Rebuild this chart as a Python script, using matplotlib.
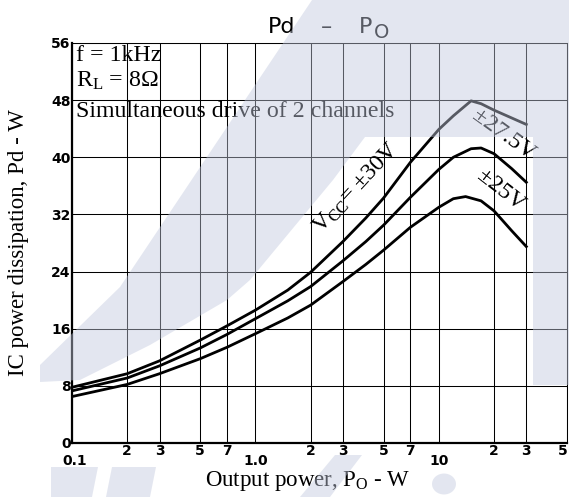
import matplotlib
matplotlib.use("Agg")
import matplotlib.pyplot as plt
from matplotlib.patches import Polygon, Circle
import matplotlib.transforms as mtransforms

plt.rcParams['mathtext.fontset'] = 'custom'
plt.rcParams['mathtext.rm'] = 'Liberation Serif'
plt.rcParams['mathtext.it'] = 'Liberation Serif:italic'

# ---- data ----
p_30 = [0.1, 0.2, 0.3, 0.5, 0.7, 1.0, 1.5, 2, 3, 4, 5, 7, 10, 12, 15, 17, 20, 25, 30]
pd_30 = [7.8, 9.7, 11.5, 14.4, 16.4, 18.6, 21.4, 23.9, 28.2, 31.5, 34.3, 39.3, 43.9, 45.8, 47.9, 47.5, 46.6, 45.5, 44.6]

p_275 = [0.1, 0.2, 0.3, 0.5, 0.7, 1.0, 1.5, 2, 3, 4, 5, 7, 10, 12, 15, 17, 20, 25, 30]
pd_275 = [7.3, 9.1, 10.8, 13.3, 15.2, 17.4, 19.9, 21.9, 25.5, 28.2, 30.5, 34.4, 38.3, 40.0, 41.2, 41.3, 40.5, 38.4, 36.5]

p_25 = [0.1, 0.2, 0.3, 0.5, 0.7, 1.0, 1.5, 2, 3, 4, 5, 7, 10, 12, 14, 17, 20, 25, 30]
pd_25 = [6.5, 8.2, 9.7, 11.8, 13.4, 15.3, 17.5, 19.3, 22.6, 25.0, 27.0, 30.2, 33.0, 34.2, 34.5, 33.9, 32.5, 29.7, 27.5]

x_major = [0.1, 1.0, 10]
x_major_labels = ["0.1", "1.0", "10"]
x_minor = [0.2, 0.3, 0.5, 0.7, 2, 3, 5, 7, 20, 30, 50]
x_minor_labels = ["2", "3", "5", "7", "2", "3", "5", "7", "2", "3", "5"]
y_ticks = [0, 8, 16, 24, 32, 40, 48, 56]

W, H = 569, 497
fig = plt.figure(figsize=(W / 100, H / 100), dpi=100)
L, R, T, B = 72, 567, 43, 443
ax = fig.add_axes([L / W, 1 - B / H, (R - L) / W, (B - T) / H])

ax.set_xscale('log')
ax.set_xlim(0.1, 50)
ax.set_ylim(0, 56)

ax.set_xticks(x_major)
ax.set_xticklabels(x_major_labels)
ax.set_xticks(x_minor, minor=True)
ax.set_xticklabels(x_minor_labels, minor=True)
ax.set_yticks(y_ticks)
ax.set_yticklabels([str(v) for v in y_ticks])

ax.tick_params(axis='x', which='major', length=0, pad=8, labelsize=10)
ax.tick_params(axis='x', which='minor', length=0, pad=1, labelsize=10)
ax.tick_params(axis='y', length=0, pad=1, labelsize=10)
for lab in ax.get_xticklabels(which='both') + ax.get_yticklabels():
    lab.set_fontweight('bold')
    lab.set_family('DejaVu Sans')
# first major label sits a little right of its gridline; last one kept inside the figure
first = ax.get_xticklabels()[0]
first.set_transform(first.get_transform() + mtransforms.ScaledTranslation(3 / 100, 0, fig.dpi_scale_trans))
last = ax.get_xticklabels(minor=True)[-1]
last.set_transform(last.get_transform() + mtransforms.ScaledTranslation(-4 / 100, 0, fig.dpi_scale_trans))

ax.grid(which='both', color='black', lw=0.75)
ax.set_axisbelow(True)
for s in ['top', 'right']:
    ax.spines[s].set_linewidth(0.75)
for s in ['left', 'bottom']:
    ax.spines[s].set_linewidth(1.6)

for px, py in [(p_30, pd_30), (p_275, pd_275), (p_25, pd_25)]:
    ax.plot(px, py, color='black', lw=2.0, solid_joinstyle='round', zorder=3)

serif = 'Liberation Serif'
fs = 17.2
ax.text(0.008, (B - 61) / (B - T), 'f = 1kHz', transform=ax.transAxes, family=serif,
        fontsize=fs, va='baseline', ha='left')
ax.text(0.008, (B - 87) / (B - T), r'R$_\mathrm{L}$ = 8Ω', transform=ax.transAxes, family=serif,
        fontsize=fs, va='baseline', ha='left')
ax.text(0.008, (B - 117) / (B - T), 'Simultaneous drive of 2 channels', transform=ax.transAxes,
        family=serif, fontsize=fs, va='baseline', ha='left')

ax.text(3.54, 35.7, r'V$_\mathrm{CC}$= ±30V', family=serif, fontsize=fs, rotation=47,
        ha='center', va='center', rotation_mode='anchor', zorder=4)
ax.text(22.6, 43.1, '±27.5V', family=serif, fontsize=fs, rotation=-36,
        ha='center', va='center', rotation_mode='anchor', zorder=4)
ax.text(21.7, 35.3, '±25V', family=serif, fontsize=fs, rotation=-38,
        ha='center', va='center', rotation_mode='anchor', zorder=4)

# title
fig.text(268 / W, 1 - 33.5 / H, 'Pd', family='DejaVu Sans', fontsize=16, va='baseline', ha='left')
fig.text(326 / W, 1 - 33.5 / H, '–', family='DejaVu Sans', fontsize=16, va='baseline', ha='center')
fig.text(359 / W, 1 - 33.5 / H, 'P', family='DejaVu Sans', fontsize=16, va='baseline', ha='left')
fig.text(374 / W, 1 - 38 / H, 'O', family='DejaVu Sans', fontsize=14, va='baseline', ha='left')

# axis labels
fig.text(308 / W, 1 - 486 / H, r'Output power, P$_\mathrm{O}$ - W', family=serif, fontsize=16.5,
         va='baseline', ha='center')
fig.text(19 / W, 1 - 243 / H, 'IC power dissipation, Pd - W', family=serif, fontsize=16.5,
         rotation=90, va='center', ha='center')

# faint watermark overlay (pixel coords)
wm_color = (0.76, 0.79, 0.87)
def px2fig(pts):
    return [(x / W, 1 - y / H) for x, y in pts]

wm_shapes = [
    [(312, 0), (569, 0), (569, 385), (533, 385), (533, 137), (365, 137), (333, 180),
     (250, 280), (227, 300), (150, 345), (80, 380), (40, 382), (40, 365), (120, 287),
     (245, 100)],
    [(51, 467), (98, 467), (92, 497), (51, 497)],
    [(112, 467), (156, 467), (150, 497), (106, 497)],
    [(300, 497), (330, 497), (362, 455), (335, 455)],
]
for shp in wm_shapes:
    fig.add_artist(Polygon(px2fig(shp), closed=True, transform=fig.transFigure,
                           facecolor=wm_color, edgecolor='none', alpha=0.45, zorder=10))
fig.add_artist(Circle((444 / W, 1 - 484 / H), 12 / W, transform=fig.transFigure,
                      facecolor=wm_color, edgecolor='none', alpha=0.45, zorder=10))

fig.savefig('out.png', dpi=100)
